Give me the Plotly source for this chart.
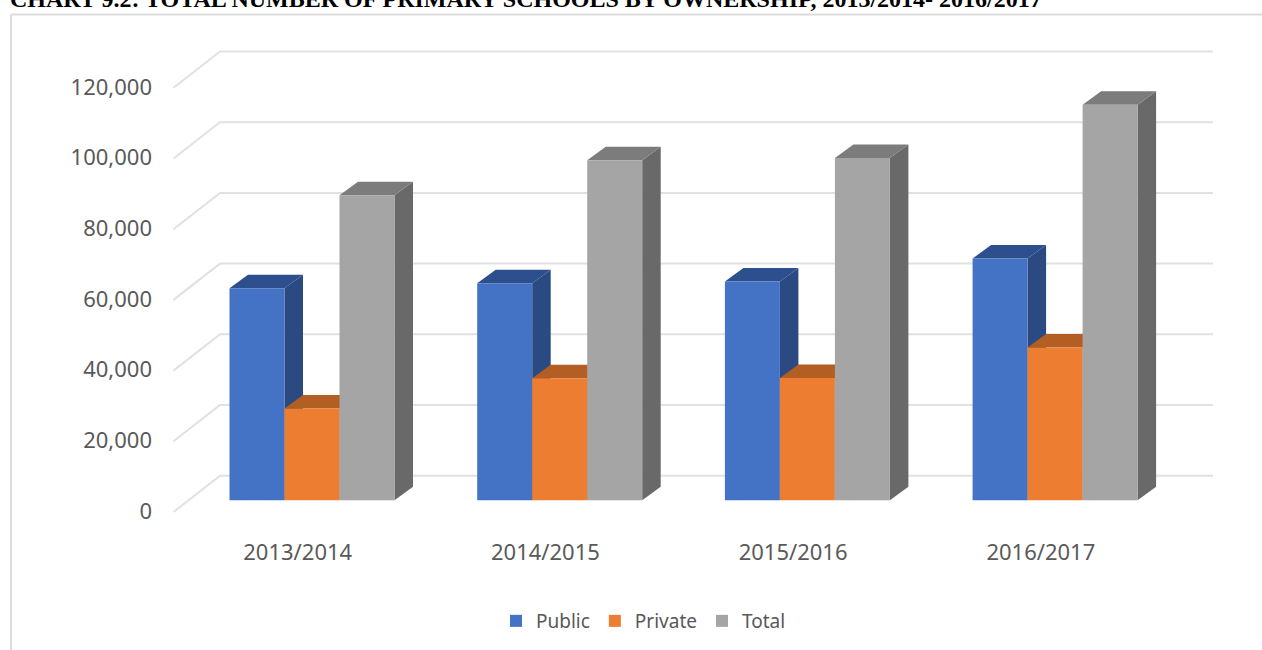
import plotly.graph_objects as go

categories = ["2013/2014", "2014/2015", "2015/2016", "2016/2017"]
public = [60000, 61400, 61900, 68400]
private = [26000, 34500, 34600, 43200]
total = [86300, 96200, 96800, 111900]
y_ticks = [0, 20000, 40000, 60000, 80000, 100000, 120000]

W, H = 1262, 650
CAT_PX = 247.7          # px per category
CAT0_PX = 312.0         # px of first category centre
VAL_PX = 3.535 / 1000   # px per value unit
BASE_PX = 500.3         # px of value 0 on the bar fronts

x_range = [-CAT0_PX / CAT_PX, (W - CAT0_PX) / CAT_PX]
y_range = [(BASE_PX - H) / VAL_PX, BASE_PX / VAL_PX]


def xpx(p):
    return (p - CAT0_PX) / CAT_PX


def dypx(p):
    return p / VAL_PX


def fx(p):
    return p / W


def fy(p):
    return 1 - p / H


BAR_W = 55.0 / CAT_PX
DX = 18.5 / CAT_PX
DY = dypx(13.5)

fig = go.Figure()

# Back wall and left wall gridlines
gx, gy = [], []
for t in y_ticks:
    gx += [xpx(173.5), xpx(220), xpx(1213), None]
    gy += [t - dypx(11.7), t + dypx(24.6), t + dypx(24.6), None]
fig.add_trace(go.Scatter(x=gx, y=gy, mode="lines", line=dict(color="#e1e1e1", width=2),
                         showlegend=False, hoverinfo="skip"))

series = [
    ("Public", public, "#4472C4", "#2B4A82", "#2D4F8E", -1),
    ("Private", private, "#ED7D31", "#A85620", "#B35E22", 0),
    ("Total", total, "#A5A5A5", "#696969", "#7C7C7C", 1),
]

for name, vals, front, side, top, k in series:
    sx, sy, tx, ty = [], [], [], []
    for i, v in enumerate(vals):
        l = i + k * BAR_W - BAR_W / 2
        r = l + BAR_W
        sx += [r, r + DX, r + DX, r, r, None]
        sy += [0, DY, v + DY, v, 0, None]
        tx += [l, l + DX, r + DX, r, l, None]
        ty += [v, v + DY, v + DY, v, v, None]
    fig.add_trace(go.Scatter(x=sx, y=sy, mode="lines", fill="toself", fillcolor=side,
                             line=dict(width=0, color=side), showlegend=False, hoverinfo="skip"))
    fig.add_trace(go.Scatter(x=tx, y=ty, mode="lines", fill="toself", fillcolor=top,
                             line=dict(width=0, color=top), showlegend=False, hoverinfo="skip"))

for name, vals, front, side, top, k in series:
    fig.add_trace(go.Bar(name=name, x=list(range(len(categories))), y=vals,
                         marker=dict(color=front, line=dict(width=0)),
                         xaxis="x2", yaxis="y2"))

# Carrier for the label axes
fig.add_trace(go.Scatter(x=list(range(len(categories))), y=y_ticks[:len(categories)],
                         mode="markers", marker=dict(opacity=0), xaxis="x3", yaxis="y3",
                         showlegend=False, hoverinfo="skip"))

LABEL = dict(family="Noto Sans", size=22, color="#595959")
hidden = dict(visible=False, fixedrange=True)
lab_dx = 14.3 / CAT_PX
lab_dy = dypx(10.7)

fig.update_layout(
    width=W, height=H, margin=dict(l=0, r=0, t=0, b=0),
    paper_bgcolor="white", plot_bgcolor="rgba(0,0,0,0)",
    barmode="group", bargap=1 - 3 * BAR_W, bargroupgap=0,
    xaxis=dict(range=x_range, domain=[0, 1], **hidden),
    yaxis=dict(range=y_range, domain=[0, 1], **hidden),
    xaxis2=dict(range=x_range, overlaying="x", anchor="y2", **hidden),
    yaxis2=dict(range=y_range, overlaying="y", anchor="x2", **hidden),
    xaxis3=dict(range=[x_range[0] + lab_dx, x_range[1] + lab_dx], overlaying="x",
                anchor="free", position=fy(537), side="bottom",
                tickmode="array", tickvals=list(range(len(categories))), ticktext=categories,
                showgrid=False, zeroline=False, showline=False, ticks="", tickfont=LABEL),
    yaxis3=dict(range=[y_range[0] + lab_dy, y_range[1] + lab_dy], overlaying="y",
                anchor="free", position=fx(152), side="left",
                tickmode="array", tickvals=y_ticks, tickformat=",",
                showgrid=False, zeroline=False, showline=False, ticks="", tickfont=LABEL),
    legend=dict(orientation="h", x=fx(496), y=fy(602), xanchor="left", yanchor="top",
                font=dict(family="Noto Sans", size=19, color="#595959"), bgcolor="rgba(0,0,0,0)"),
    shapes=[
        dict(type="line", xref="paper", yref="paper", x0=fx(11), x1=1, y0=fy(14.5), y1=fy(14.5),
             line=dict(color="#dcdcdc", width=2), layer="below"),
        dict(type="line", xref="paper", yref="paper", x0=fx(11), x1=fx(11), y0=0, y1=fy(14.5),
             line=dict(color="#dcdcdc", width=2), layer="below"),
    ],
    annotations=[
        dict(text="<b>CHART 9.2: TOTAL NUMBER OF PRIMARY SCHOOLS BY OWNERSHIP, 2013/2014- 2016/2017</b>",
             xref="paper", yref="paper", x=fx(9), y=fy(13.5), xanchor="left", yanchor="bottom",
             showarrow=False, borderpad=0, align="left",
             font=dict(family="Liberation Serif", size=24, color="#000000")),
    ],
)

fig.write_html("out.html", config={"displayModeBar": False},
               post_script="document.body.style.margin='0';")
